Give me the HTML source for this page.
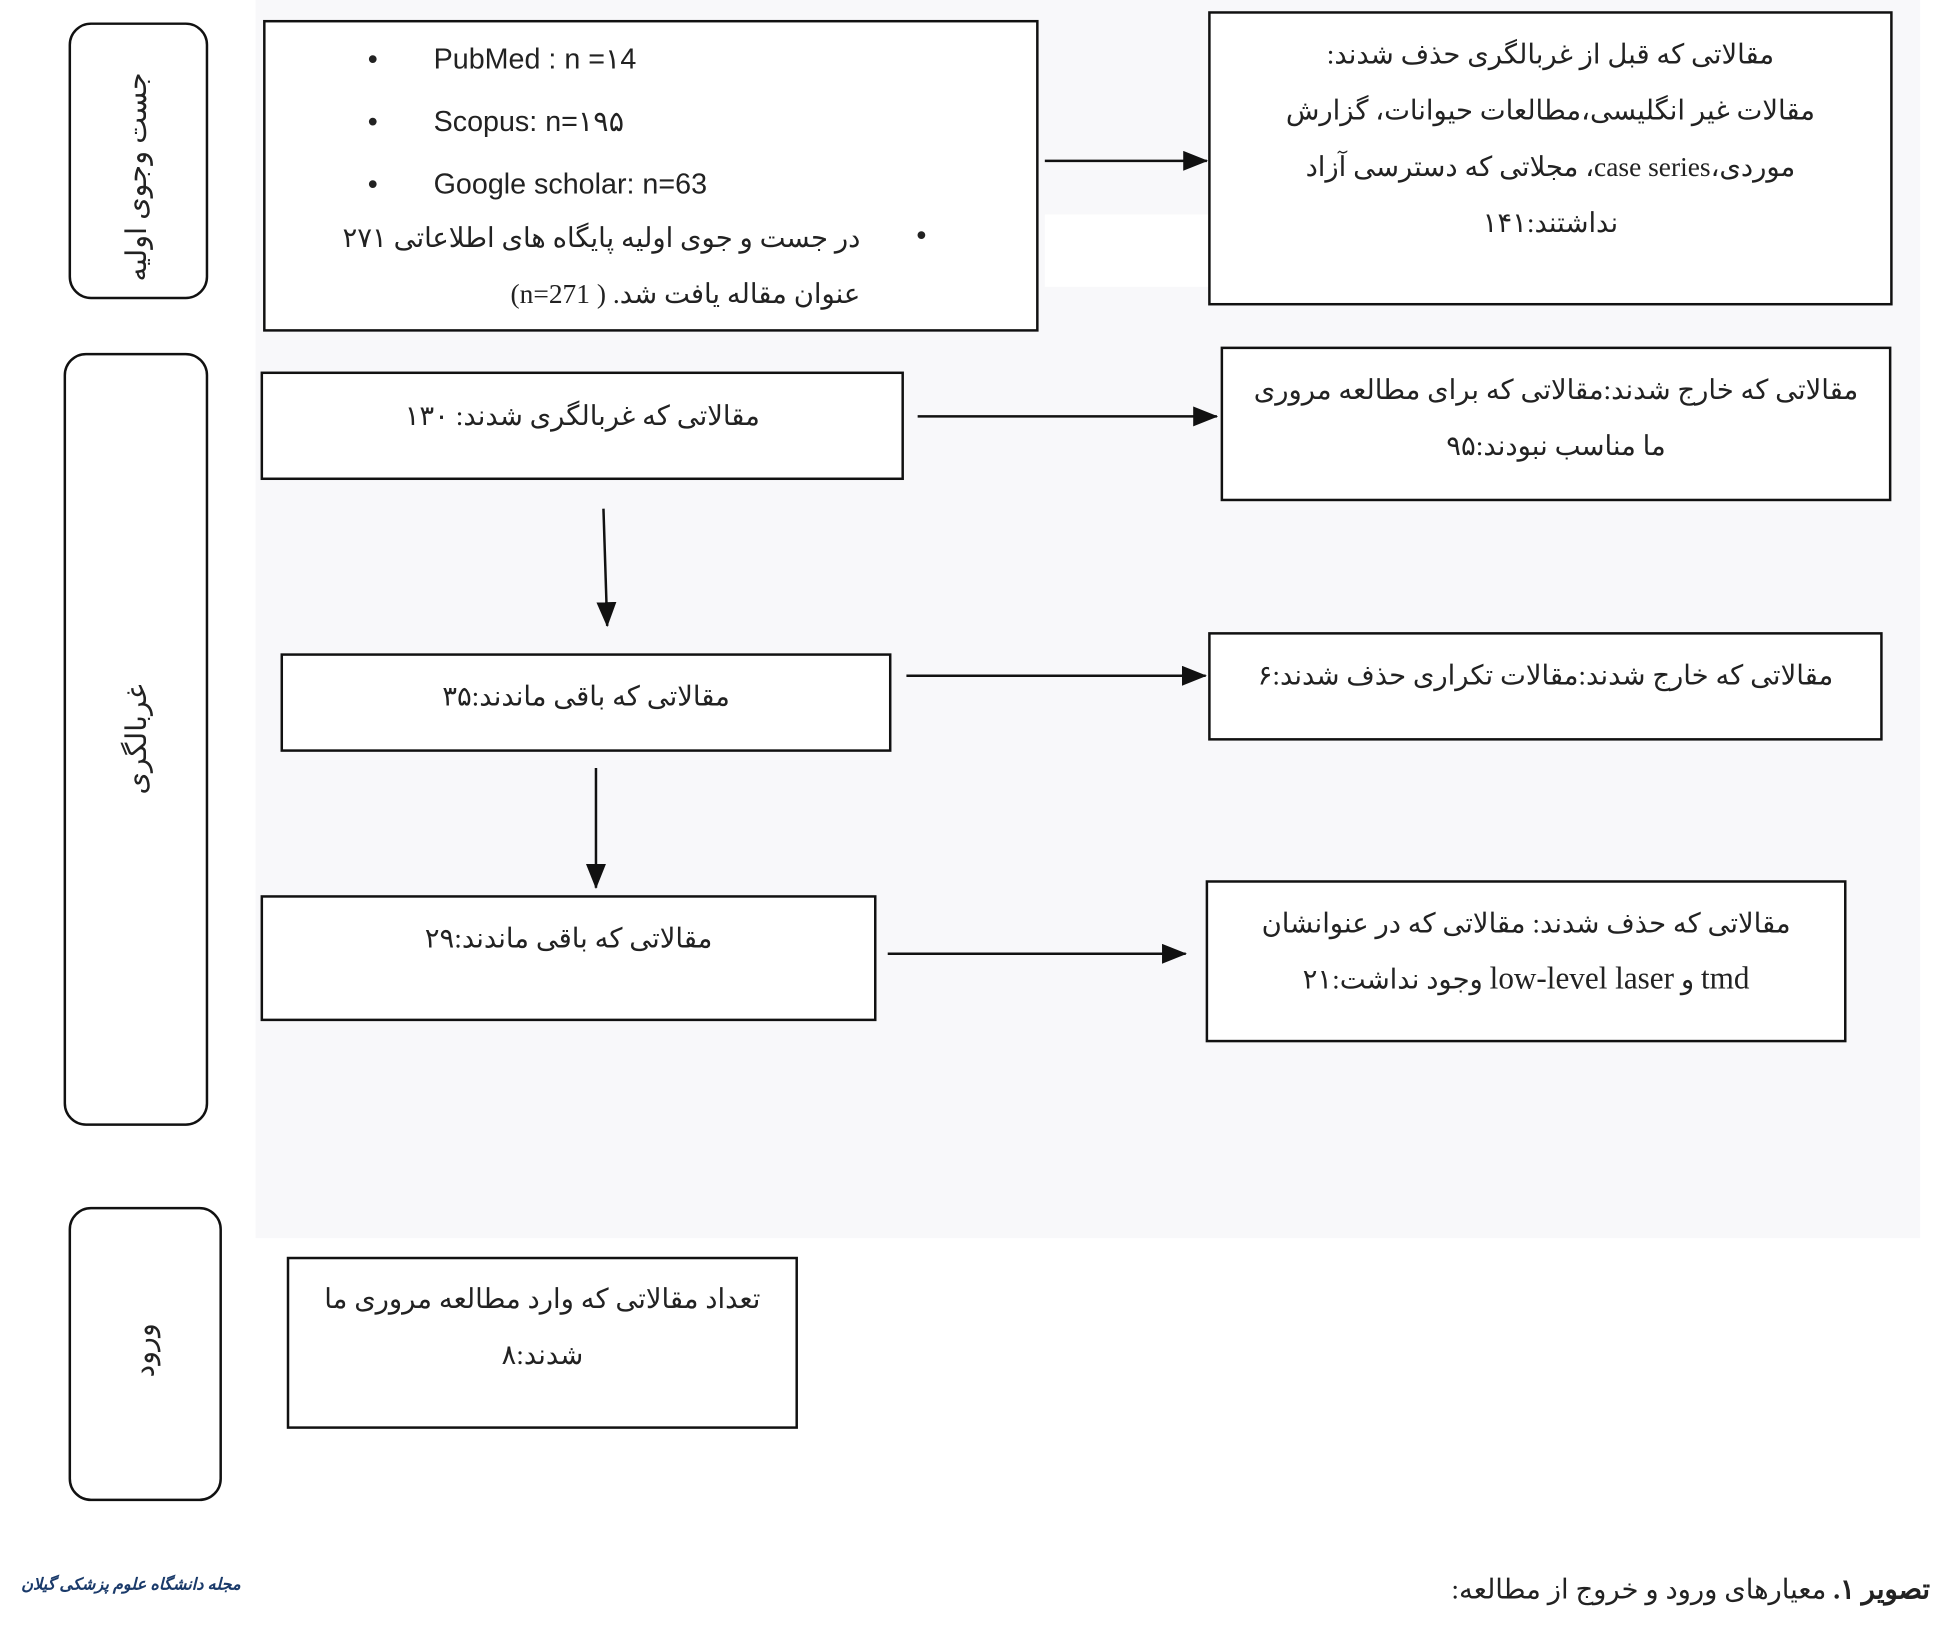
<!DOCTYPE html>
<html><head><meta charset="utf-8"><style>
html,body{margin:0;padding:0;background:#fff;width:1945px;height:1640px;overflow:hidden}
#w{position:absolute;left:0;top:0;width:1560px;height:1316px;transform:scale(1.2468);transform-origin:0 0;font-family:"Liberation Serif","Noto Sans CJK SC",serif;color:#222}
.b{position:absolute;border:2px solid #111;background:#fff;box-sizing:border-box}
.r{border-radius:18px}
.t{position:absolute;direction:rtl;text-align:center;font-size:22px;line-height:45px;white-space:nowrap}
.v{position:absolute;transform:rotate(-90deg);white-space:nowrap;font-size:23px;direction:rtl}
.en{font-family:"Liberation Sans",sans-serif;font-size:23px;direction:ltr;position:absolute}
</style></head><body><div id="w">
<div style="position:absolute;left:205px;top:0;width:1335px;height:993px;background:#f8f8fa"></div>
<div style="position:absolute;left:838px;top:172px;width:132px;height:58px;background:#fff"></div>

<div class="b r" style="left:55px;top:18px;width:112px;height:222px"></div>
<div class="v" style="left:40px;top:115px;width:140px;text-align:center">جست وجوی اولیه</div>
<div class="b r" style="left:51px;top:283px;width:116px;height:620px"></div>
<div class="v" style="left:50px;top:580px;width:120px;text-align:center">غربالگری</div>
<div class="b r" style="left:55px;top:968px;width:123px;height:236px"></div>
<div class="v" style="left:66px;top:1070px;width:100px;text-align:center">ورود</div>

<div class="b" style="left:211px;top:16px;width:622px;height:250px"></div>
<div class="en" style="left:295px;top:34px">•&nbsp;&nbsp;&nbsp;&nbsp;&nbsp;&nbsp;&nbsp;PubMed : n =۱4</div>
<div class="en" style="left:295px;top:84px">•&nbsp;&nbsp;&nbsp;&nbsp;&nbsp;&nbsp;&nbsp;Scopus: n=۱۹۵</div>
<div class="en" style="left:295px;top:134px">•&nbsp;&nbsp;&nbsp;&nbsp;&nbsp;&nbsp;&nbsp;Google scholar: n=63</div>
<div class="en" style="left:735px;top:175px">•</div>
<div class="t" style="left:240px;top:168px;width:450px;text-align:right">در جست و جوی اولیه پایگاه های اطلاعاتی ۲۷۱<br>عنوان مقاله یافت شد. ( n=271)</div>

<div class="b" style="left:969px;top:9px;width:549px;height:236px"></div>
<div class="t" style="left:969px;top:21px;width:549px">مقالاتی که قبل از غربالگری حذف شدند:<br>مقالات غیر انگلیسی،مطالعات حیوانات، گزارش<br>موردی،case series، مجلاتی که دسترسی آزاد<br>نداشتند:۱۴۱</div>

<div class="b" style="left:209px;top:298px;width:516px;height:87px"></div>
<div class="t" style="left:209px;top:311px;width:516px">مقالاتی که غربالگری شدند: ۱۳۰</div>
<div class="b" style="left:979px;top:278px;width:538px;height:124px"></div>
<div class="t" style="left:979px;top:290px;width:538px">مقالاتی که خارج شدند:مقالاتی که برای مطالعه مروری<br>ما مناسب نبودند:۹۵</div>

<div class="b" style="left:225px;top:524px;width:490px;height:79px"></div>
<div class="t" style="left:225px;top:536px;width:490px">مقالاتی که باقی ماندند:۳۵</div>
<div class="b" style="left:969px;top:507px;width:541px;height:87px"></div>
<div class="t" style="left:969px;top:519px;width:541px">مقالاتی که خارج شدند:مقالات تکراری حذف شدند:۶</div>

<div class="b" style="left:209px;top:718px;width:494px;height:101px"></div>
<div class="t" style="left:209px;top:730px;width:494px">مقالاتی که باقی ماندند:۲۹</div>
<div class="b" style="left:967px;top:706px;width:514px;height:130px"></div>
<div class="t" style="left:967px;top:718px;width:514px">مقالاتی که حذف شدند: مقالاتی که در عنوانشان<br><span style="font-size:25px">tmd</span> و <span style="font-size:25px">low-level laser</span> وجود نداشت:۲۱</div>

<div class="b" style="left:230px;top:1008px;width:410px;height:138px"></div>
<div class="t" style="left:230px;top:1019px;width:410px">تعداد مقالاتی که وارد مطالعه مروری ما<br>شدند:۸</div>

<svg style="position:absolute;left:0;top:0" width="1560" height="1316">
<defs><marker id="m" markerWidth="20" markerHeight="18" refX="19" refY="8" orient="auto" markerUnits="userSpaceOnUse"><path d="M0,0L20,8L0,16z" fill="#111"/></marker></defs>
<g stroke="#111" stroke-width="2">
<line x1="838" y1="129" x2="968" y2="129" marker-end="url(#m)"/>
<line x1="736" y1="334" x2="976" y2="334" marker-end="url(#m)"/>
<line x1="727" y1="542" x2="967" y2="542" marker-end="url(#m)"/>
<line x1="712" y1="765" x2="951" y2="765" marker-end="url(#m)"/>
<line x1="484" y1="408" x2="487" y2="502" marker-end="url(#m)"/>
<line x1="478" y1="616" x2="478" y2="712" marker-end="url(#m)"/>
</g></svg>

<div class="t" style="left:1000px;top:1252px;width:548px;text-align:right;font-size:22px"><b>تصویر ۱.</b> معیارهای ورود و خروج از مطالعه:</div>
<div class="t" style="left:10px;top:1248px;width:190px;font-size:13px;color:#1a3a6a;font-style:italic;font-weight:bold">مجله دانشگاه علوم پزشکی گیلان</div>
</div></body></html>
